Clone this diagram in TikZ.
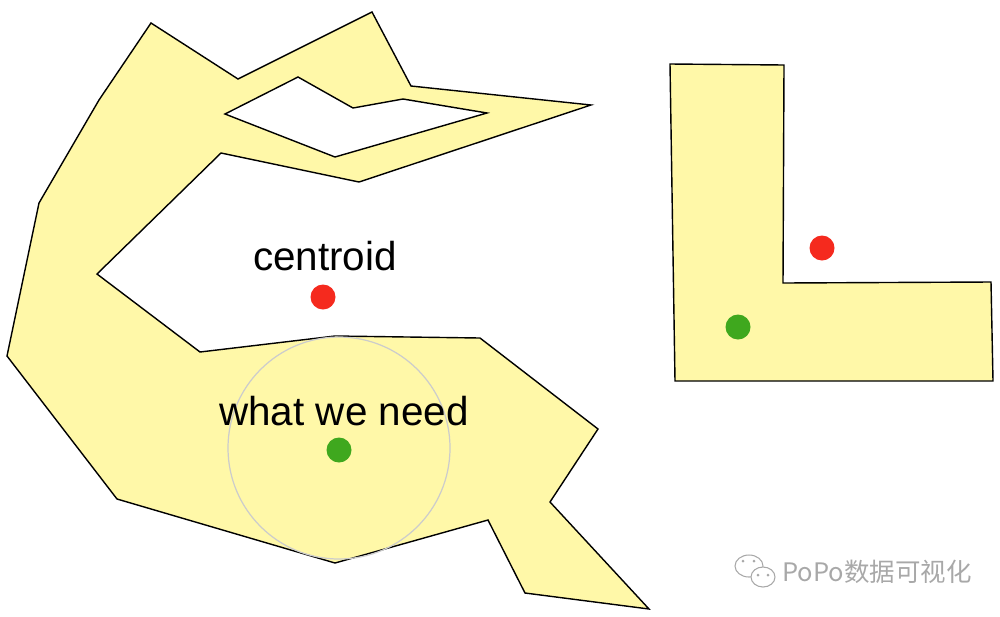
\documentclass[tikz,border=0pt]{standalone}
\usepackage{fontspec}
\setmainfont{Liberation Sans}
\newfontfamily\cjkfont{Noto Sans CJK SC}
\definecolor{polyfill}{HTML}{FFF8A8}
\definecolor{centroidred}{HTML}{F52A1E}
\definecolor{needgreen}{HTML}{3FA81E}
\definecolor{markgray}{HTML}{A8A8A8}

\begin{document}
\begin{tikzpicture}[x=0.02cm,y=-0.02cm,
    polyshape/.style={draw=black,line width=0.8pt,fill=polyfill,line join=miter,even odd rule},
    spot/.style={circle,inner sep=0pt,minimum size=0.5cm},
    eye/.style={circle,inner sep=0pt,minimum size=0.06cm,fill=markgray},
    caption/.style={font=\fontsize{23}{27}\selectfont,inner sep=0pt,anchor=base}]
    \useasboundingbox (0,0) rectangle (1000,616);
    \filldraw[polyshape] (151,23) -- (238,79) -- (372,12) -- (411,86) -- (591,105)
        -- (359,182) -- (221,153) -- (97,274) -- (200,352) -- (335,336) -- (480,338)
        -- (598,429) -- (550,502) -- (649,609) -- (525,593) -- (488,520) -- (335,563)
        -- (117,499) -- (7,356) -- (39,203) -- (99,100) -- cycle
        (225,114) -- (298,77) -- (353,108) -- (403,99) -- (487,113) -- (335,157) -- cycle;
    \filldraw[polyshape] (670,64) -- (784,65) -- (783,283) -- (991,282) -- (993,381) -- (675,381) -- cycle;
    \draw[draw=black!20,line width=0.7pt] (339,448) circle[radius=111];
    \node[caption] (centroidtext) at (325,270) {centroid};
    \node[spot,fill=centroidred] (centroidspot) at (323,297) {};
    \node[caption] (needtext) at (344,425) {what we need};
    \node[spot,fill=needgreen] (needspot) at (339,450) {};
    \node[spot,fill=centroidred] (lcentroid) at (822,248) {};
    \node[spot,fill=needgreen] (lneed) at (738,327) {};
    \draw[markgray,line width=0.6pt] (749,566) ellipse[x radius=14,y radius=11];
    \draw[markgray,line width=0.6pt,fill=white] (763,577) ellipse[x radius=12,y radius=10];
    \node[eye] (eyea) at (743,561) {};
    \node[eye] (eyeb) at (754,561) {};
    \node[eye] (eyec) at (758,575) {};
    \node[eye] (eyed) at (768,575) {};
    \node[anchor=base west,inner sep=0pt,text=markgray,font=\cjkfont\fontsize{14.5}{17}\selectfont]
        (brand) at (782,581) {PoPo数据可视化};
\end{tikzpicture}
\end{document}
